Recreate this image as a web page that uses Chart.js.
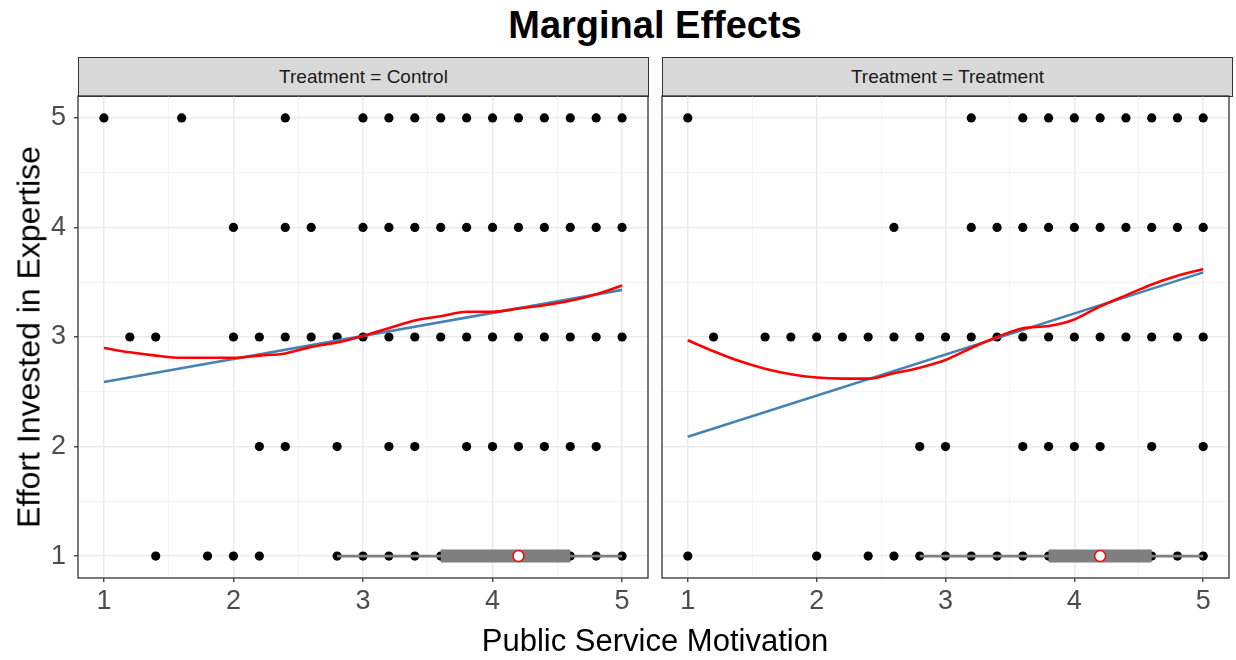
<!DOCTYPE html>
<html><head><meta charset="utf-8">
<script src="https://cdn.jsdelivr.net/npm/chart.js@4.4.0/dist/chart.umd.min.js"></script>
<style>
html,body{margin:0;padding:0;background:#fff;overflow:hidden;width:1236px;height:660px;}
#wrap{position:relative;width:1236px;height:660px;font-family:"Liberation Sans",Arial,sans-serif;}
.cv{position:absolute;}
#title{position:absolute;left:78px;width:1154px;top:3px;text-align:center;font-weight:bold;font-size:38px;line-height:44px;color:#000;}
.strip{position:absolute;top:57px;height:40px;background:#d9d9d9;border:1.2px solid #333;box-sizing:border-box;text-align:center;line-height:37px;font-size:19px;color:#1a1a1a;}
#xtitle{position:absolute;left:78px;width:1154px;top:622px;line-height:38px;text-align:center;font-size:31px;color:#000;}
#ytitle{position:absolute;left:29px;top:337px;transform:translate(-50%,-50%) rotate(-90deg);white-space:nowrap;font-size:32px;color:#000;}
</style></head>
<body><div id="wrap">
<div id="title">Marginal Effects</div>
<div class="strip" style="left:78px;width:571px;">Treatment = Control</div>
<div class="strip" style="left:662px;width:571px;">Treatment = Treatment</div>
<canvas id="c1" class="cv" style="left:0;top:66px;" width="660" height="560"></canvas>
<canvas id="c2" class="cv" style="left:650px;top:66px;" width="586" height="560"></canvas>
<div id="xtitle">Public Service Motivation</div>
<div id="ytitle">Effort Invested in Expertise</div>
</div>
<script>
// ---- data ----
const xTickLabels = ['1','2','3','4','5'];
const yTickLabels = ['1','2','3','4','5'];
const majorValues = [1,2,3,4,5];
const gridValues = [1,1.5,2,2.5,3,3.5,4,4.5,5];
const axisMin = 0.8, axisMax = 5.2;

// observed PSM values at each effort level (Control)
const ctrlEffort5 = [1.0,1.6,2.4,3.0,3.2,3.4,3.6,3.8,4.0,4.2,4.4,4.6,4.8,5.0];
const ctrlEffort4 = [2.0,2.4,2.6,3.0,3.2,3.4,3.6,3.8,4.0,4.2,4.4,4.6,4.8,5.0];
const ctrlEffort3 = [1.2,1.4,2.0,2.2,2.4,2.6,2.8,3.0,3.2,3.4,3.6,3.8,4.0,4.2,4.4,4.6,4.8,5.0];
const ctrlEffort2 = [2.2,2.4,2.8,3.2,3.4,3.8,4.0,4.2,4.4,4.6,4.8];
const ctrlEffort1 = [1.4,1.8,2.0,2.2,2.8,3.0,3.2,3.4,3.6,4.6,4.8,5.0];
// Treatment
const trtEffort5 = [1.0,3.2,3.6,3.8,4.0,4.2,4.4,4.6,4.8,5.0];
const trtEffort4 = [2.6,3.2,3.4,3.6,3.8,4.0,4.2,4.4,4.6,4.8,5.0];
const trtEffort3 = [1.2,1.6,1.8,2.0,2.2,2.4,2.6,2.8,3.0,3.2,3.4,3.6,3.8,4.0,4.2,4.4,4.6,4.8,5.0];
const trtEffort2 = [2.8,3.0,3.6,3.8,4.0,4.2,4.6,5.0];
const trtEffort1 = [1.0,2.0,2.4,2.6,2.8,3.0,3.2,3.4,3.6,3.8,4.6,4.8,5.0];

// smoothers
const smoothX   = [1.0,1.2,1.4,1.6,1.8,2.0,2.2,2.4,2.6,2.8,3.0,3.2,3.4,3.6,3.8,4.0,4.2,4.4,4.6,4.8,5.0];
const ctrlLoess = [2.90,2.86,2.83,2.81,2.81,2.81,2.83,2.85,2.91,2.95,3.01,3.08,3.15,3.19,3.23,3.23,3.26,3.29,3.33,3.39,3.47];
const trtLoess  = [2.97,2.87,2.78,2.71,2.66,2.63,2.62,2.62,2.67,2.72,2.79,2.90,3.00,3.08,3.10,3.16,3.28,3.38,3.48,3.56,3.62];
const linX      = [1.0,5.0];
const ctrlLinear = [2.59,3.43];
const trtLinear  = [2.09,3.59];

// PSM boxplot: [whisker low, Q1, median, Q3, whisker high]
const ctrlBox = [2.8,3.6,4.2,4.6,5.0];
const trtBox  = [2.8,3.8,4.2,4.6,5.0];
const boxLevel = 1;

// ---- build ----
Chart.defaults.font.family = "'Liberation Sans', Arial, sans-serif";
Chart.defaults.animation = false;

function pts(levels){
  const out=[];
  levels.forEach(([y,arr])=>arr.forEach(x=>out.push({x:x,y:y})));
  return out;
}
function zip(xs,ys){return xs.map((x,i)=>({x:x,y:ys[i]}));}
const isMajor = v => majorValues.includes(v);

const frame = {id:'frame', afterDraw(c){
  const a=c.chartArea, g=c.ctx; g.save(); g.strokeStyle='#333333'; g.lineWidth=1.3;
  g.strokeRect(a.left,a.top,a.right-a.left,a.bottom-a.top); g.restore();
}};

function makeChart(id, points, loess, linear, box, showY, pad){
  const datasets = [
    {data:[{x:box[2],y:boxLevel}], pointRadius:5.5, pointBackgroundColor:'#ffffff', pointBorderColor:'#ff0000', pointBorderWidth:1.5, showLine:false},
    {data:[{x:box[1],y:boxLevel},{x:box[3],y:boxLevel}], showLine:true, borderColor:'#7f7f7f', borderWidth:13, borderCapStyle:'butt', pointRadius:0},
    {data:[{x:box[0],y:boxLevel},{x:box[4],y:boxLevel}], showLine:true, borderColor:'#7f7f7f', borderWidth:2.6, borderCapStyle:'butt', pointRadius:0},
    {data:zip(smoothX,loess), showLine:true, borderColor:'#ff0000', borderWidth:2.6, pointRadius:0, tension:0.4, cubicInterpolationMode:'monotone'},
    {data:zip(linX,linear), showLine:true, borderColor:'#4682b4', borderWidth:2.6, pointRadius:0},
    {data:points, pointRadius:4.6, pointBackgroundColor:'#000', pointBorderColor:'#000', pointBorderWidth:0, showLine:false}
  ];
  return new Chart(document.getElementById(id), {
    type:'scatter',
    data:{datasets},
    plugins:[frame],
    options:{
      responsive:false, animation:false,
      layout:{padding:pad},
      plugins:{legend:{display:false}, tooltip:{enabled:false}},
      scales:{
        x:{type:'linear', min:axisMin, max:axisMax,
          afterBuildTicks:s=>{s.ticks=gridValues.map(v=>({value:v}));},
          afterFit:s=>{s.height=48;},
          border:{display:false},
          grid:{color:c=>isMajor(c.tick.value)?'#ebebeb':'#f3f3f3', lineWidth:c=>isMajor(c.tick.value)?1.5:0.9,
                drawTicks:true, tickLength:4, tickWidth:1.3, tickColor:c=>isMajor(c.tick.value)?'#333333':'rgba(0,0,0,0)'},
          ticks:{autoSkip:false, maxRotation:0, padding:3, color:'#4d4d4d', font:{size:27},
                 callback:v=>isMajor(v)?xTickLabels[majorValues.indexOf(v)]:''}
        },
        y:{type:'linear', min:axisMin, max:axisMax,
          afterBuildTicks:s=>{s.ticks=gridValues.map(v=>({value:v}));},
          afterFit:s=>{s.width=showY?78:0;},
          border:{display:false},
          grid:{color:c=>isMajor(c.tick.value)?'#ebebeb':'#f3f3f3', lineWidth:c=>isMajor(c.tick.value)?1.5:0.9,
                drawTicks:showY, tickLength:4, tickWidth:1.3, tickColor:c=>isMajor(c.tick.value)?'#333333':'rgba(0,0,0,0)'},
          ticks:{display:showY, autoSkip:false, padding:8, color:'#4d4d4d', font:{size:27},
                 callback:v=>isMajor(v)?yTickLabels[majorValues.indexOf(v)]:''}
        }
      }
    }
  });
}

makeChart('c1', pts([[5,ctrlEffort5],[4,ctrlEffort4],[3,ctrlEffort3],[2,ctrlEffort2],[1,ctrlEffort1]]),
  ctrlLoess, ctrlLinear, ctrlBox, true, {top:30,right:12,bottom:0,left:0});
makeChart('c2', pts([[5,trtEffort5],[4,trtEffort4],[3,trtEffort3],[2,trtEffort2],[1,trtEffort1]]),
  trtLoess, trtLinear, trtBox, false, {top:30,right:4,bottom:0,left:12});
</script>
</body></html>
